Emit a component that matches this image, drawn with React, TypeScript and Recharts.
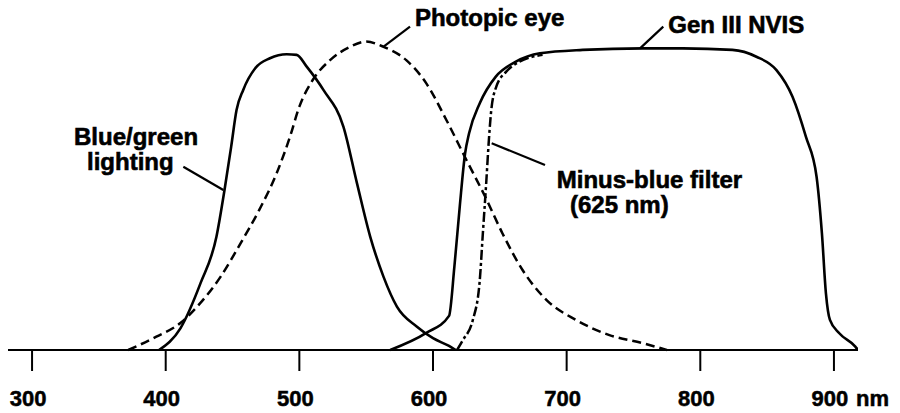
import React from 'react';
import { LineChart, Line, XAxis, YAxis, ReferenceLine, ReferenceDot } from 'recharts';

// wavelength (nm) / relative response (0-100)
const blueGreenNm = [395, 411, 426, 438, 444, 449, 453, 458, 467, 478, 490.5, 498, 505.5, 518, 533, 543, 553, 563, 573, 588, 600, 612, 617];
const blueGreenVal = [0, 7, 21.5, 36.6, 51.6, 65.6, 77.4, 83.9, 90.9, 94.1, 95.4, 95.2, 91.4, 83.9, 72, 54, 36.6, 23.6, 14, 7.5, 3.8, 1.3, 0];

const photopicNm = [372, 393, 411, 426, 441, 456, 470, 483, 493, 500, 510, 523, 538, 550, 563, 580, 595, 610, 625, 639, 652, 667, 685, 707, 732, 757, 775];
const photopicVal = [0, 4.3, 8.7, 15.2, 23.6, 34.4, 45.2, 57, 68.8, 78.5, 87.1, 93.5, 97.8, 99.5, 97.8, 93.5, 86, 74.2, 61.3, 49.5, 37.6, 25.8, 16.1, 9.7, 4.8, 2.2, 0];

const genIIINm = [568, 595, 612, 616, 620, 624, 627, 635, 647, 662, 680, 712, 757, 787, 824, 842, 857, 869, 879, 887, 891, 894, 897, 904, 916, 918];
const genIIIVal = [0, 5.5, 11, 26.9, 46.2, 63.4, 69.9, 79.6, 88.2, 93, 95.7, 96.8, 97.3, 97.3, 96.8, 94.6, 90.3, 81.7, 68.8, 55.9, 37.6, 18.3, 9.7, 5.4, 1.1, 0];

const minusBlueNm = [618, 622.4, 629.8, 634.8, 637.3, 639.8, 641.8, 643.6, 647.3, 654.8, 664.7, 682];
const minusBlueVal = [0, 3.2, 9.7, 21.5, 37.6, 53.8, 67.7, 77.4, 84.9, 89.8, 93, 95.2];

const xTicks = [300, 400, 500, 600, 700, 800, 900];

// annotation text: [label, nm, value]
const labels: [string, number, number][] = [
  ['Photopic eye', 586.5, 104.5],
  ['Gen III NVIS', 776, 102.2],
  ['Blue/green', 331.4, 66.1],
  ['lighting', 341.1, 58.1],
  ['Minus-blue filter', 692.6, 52.2],
  ['(625 nm)', 702.5, 44.2],
];

// leader lines: [nm1, v1, nm2, v2]
const leaders: [number, number, number, number][] = [
  [562.8, 97.8, 582.8, 104.3],
  [754.9, 97.3, 772.3, 104.3],
  [413.2, 59.1, 443.1, 51.6],
  [643.9, 66.7, 683.8, 59.7],
];

const zip = (xs: number[], ys: number[]) => xs.map((nm, i) => ({ nm, v: ys[i] }));

const FONT = '"Liberation Sans", Arial, Helvetica, sans-serif';

const Tick = (props: any) => {
  const { x, y, payload } = props;
  const style = { fontFamily: FONT, fontWeight: 'bold', fontSize: 22, fill: '#000', stroke: '#000', strokeWidth: 0.5 } as const;
  return (
    <g>
      <text x={x - 4} y={y + 33} textAnchor="middle" {...style}>
        {payload.value}
      </text>
      {payload.value === 900 && (
        <text x={x + 22} y={y + 33} textAnchor="start" {...style}>
          nm
        </text>
      )}
    </g>
  );
};

export default function App() {
  return (
    <div style={{ position: 'absolute', left: 0, top: 0, background: '#fff' }}>
      <LineChart width={900} height={413} margin={{ top: 40, right: 42, left: 8, bottom: 13 }}>
        <XAxis
          type="number"
          dataKey="nm"
          domain={[282, 918]}
          allowDataOverflow
          ticks={xTicks}
          interval={0}
          height={50}
          tickSize={21}
          axisLine={{ stroke: '#000', strokeWidth: 2.2 }}
          tickLine={{ stroke: '#000', strokeWidth: 2 }}
          tick={<Tick />}
        />
        <YAxis type="number" domain={[0, 100]} hide />
        <Line data={zip(blueGreenNm, blueGreenVal)} dataKey="v" type="monotone" stroke="#000" strokeWidth={2.6} dot={false} isAnimationActive={false} />
        <Line data={zip(photopicNm, photopicVal)} dataKey="v" type="monotone" stroke="#000" strokeWidth={2.5} strokeDasharray="9 5" dot={false} isAnimationActive={false} />
        <Line data={zip(genIIINm, genIIIVal)} dataKey="v" type="monotone" stroke="#000" strokeWidth={2.6} dot={false} isAnimationActive={false} />
        <Line data={zip(minusBlueNm, minusBlueVal)} dataKey="v" type="monotone" stroke="#000" strokeWidth={2.5} strokeDasharray="10 3 3 3" dot={false} isAnimationActive={false} />
        {leaders.map(([x1, y1, x2, y2], i) => (
          <ReferenceLine key={'l' + i} segment={[{ x: x1, y: y1 }, { x: x2, y: y2 }]} stroke="#000" strokeWidth={2.2} ifOverflow="visible" />
        ))}
        {labels.map(([text, nm, v], i) => (
          <ReferenceDot
            key={'t' + i}
            x={nm}
            y={v}
            r={1}
            ifOverflow="visible"
            shape={(p: any) => (
              <text x={p.cx} y={p.cy} fontFamily={FONT} fontWeight="bold" fontSize={24} fill="#000" stroke="#000" strokeWidth={0.6}>
                {text}
              </text>
            )}
          />
        ))}
      </LineChart>
    </div>
  );
}
